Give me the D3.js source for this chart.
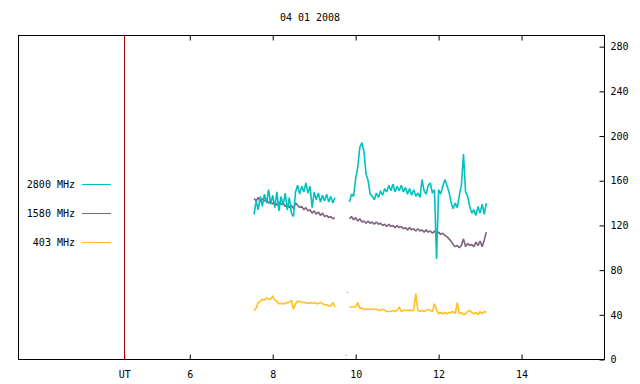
<!DOCTYPE html>
<html>
<head>
<meta charset="utf-8">
<script src="https://cdn.jsdelivr.net/npm/d3@7"></script>
<style>
	body { margin: 0; background: #fff; }
	text { font-family: "DejaVu Sans Mono", monospace; font-size: 10px; fill: #000; }
</style>
</head>
<body>
<div id=chart></div>
<script>

// title and axis ticks
var title = '04 01 2008';
var hourTicks = [6, 8, 10, 12, 14];
var utHour = 4.42;
var fluxTicks = [0, 40, 80, 120, 160, 200, 240, 280];

// legend
var seriesNames = ['2800 MHz', '1580 MHz', '403 MHz'];
var seriesColors = ['#00c0c0', '#806080', '#ffc020'];

// samples every 0.05 h (3 min) in two observing blocks
var step = 0.05;
var start1 = 7.55;
var start2 = 9.85;

var f2800_a = [130,142,134,146,137,148,140,152,139,147,136,150,133,146,138,149,134,145,131,128,
	150,156,148,155,150,158,149,155,136,150,143,149,141,147,142,148,141,146,140,145];
var f1580_a = [144,142,145,141,144,142,143,140,142,139,141,138,141,139,140,137,139,136,138,135,
	140,138,136,137,134,136,133,134,131,133,130,132,129,131,128,129,127,128,126,127];
var f403_a  = [44,46,51,52,54,53,55,54,54,57,53,52,50,50,50,50,51,51,53,45,
	50,52,52,51,51,51,50,51,50,51,50,50,51,50,49,49,48,48,51,47];

var f2800_b = [141,148,146,162,172,190,194,186,166,160,148,146,143,149,145,151,147,153,150,156,
	151,157,150,155,151,156,150,154,148,153,147,152,146,149,145,161,151,148,156,158,
	149,152,90,152,148,155,161,156,150,141,135,140,136,147,156,184,150,146,137,131,
	134,129,137,131,139,130,140];
var f1580_b = [126,128,125,127,124,126,123,124,122,124,122,123,121,123,121,122,120,121,119,121,
	119,120,118,120,118,119,117,118,116,118,116,117,115,117,115,116,114,116,114,115,
	113,115,112,114,112,113,111,110,108,106,103,101,102,100,102,108,101,104,102,103,
	101,105,102,106,101,107,114];
var f403_b  = [47,47,47,47,51,46,46,45,45,45,45,45,45,45,44,44,45,44,43,43,
	43,44,43,44,47,43,44,44,44,44,44,44,59,44,43,44,43,44,45,44,
	43,50,44,41,42,41,42,41,42,42,43,41,51,41,42,40,41,43,44,42,
	41,42,40,43,41,43,42];

// a few stray samples in the gap
var strayHour = [9.80, 9.77, 9.77];
var strayVal = [60, 4, 1];

var width = 640, height = 384;
var svg = d3.select("#chart").append("svg")
	.attr("width", width)
	.attr("height", height);

var x = d3.scaleLinear().domain([1.87, 16]).range([18.5, 604.5]);
var y = d3.scaleLinear().domain([0, 290]).range([359.5, 35.5]);

function toPoints(startHour, vals) {
	return vals.map(function(v, i) { return { t: startHour + i * step, v: v }; });
}

var series = [
	[toPoints(start1, f2800_a), toPoints(start2, f2800_b)],
	[toPoints(start1, f1580_a), toPoints(start2, f1580_b)],
	[toPoints(start1, f403_a), toPoints(start2, f403_b)]
];

// title
svg.append("text")
	.attr("x", 310).attr("y", 21)
	.attr("text-anchor", "middle")
	.text(title);

// axes
var bottomAxis = d3.axisBottom(x)
	.tickValues([utHour].concat(hourTicks))
	.tickFormat(function(d) { return d == utHour ? 'UT' : d; })
	.tickSizeInner(-5).tickSizeOuter(0).tickPadding(11);
svg.append("g")
	.attr("transform", "translate(0," + y(0) + ")")
	.call(bottomAxis)
	.call(function(g) { g.select(".domain").remove(); g.selectAll("text").style("font-size", "10px").style("font-family", "DejaVu Sans Mono"); });

var topAxis = d3.axisTop(x).tickValues(hourTicks).tickFormat("").tickSizeInner(-5).tickSizeOuter(0);
svg.append("g")
	.attr("transform", "translate(0," + y(290) + ")")
	.call(topAxis)
	.call(function(g) { g.select(".domain").remove(); });

var rightAxis = d3.axisRight(y)
	.tickValues(fluxTicks)
	.tickSizeInner(-5).tickSizeOuter(0).tickPadding(6);
svg.append("g")
	.attr("transform", "translate(" + x(16) + ",0)")
	.call(rightAxis)
	.call(function(g) {
		g.select(".domain").remove();
		g.selectAll("text").style("font-size", "10px").style("font-family", "DejaVu Sans Mono");
	});

// frame
svg.append("rect")
	.attr("x", x(1.87)).attr("y", y(290))
	.attr("width", x(16) - x(1.87)).attr("height", y(0) - y(290))
	.attr("fill", "none").attr("stroke", "#000").attr("stroke-width", 1);

// UT marker
var utX = Math.round(x(utHour) - 0.5) + 0.5;
svg.append("line")
	.attr("x1", utX).attr("x2", utX)
	.attr("y1", y(290)).attr("y2", y(0))
	.attr("stroke", "#a00000").attr("stroke-width", 1);

// data lines
var line = d3.line()
	.x(function(d) { return x(d.t); })
	.y(function(d) { return y(d.v); });

var drawOrder = [1, 0, 2];
drawOrder.forEach(function(k) {
	series[k].forEach(function(seg) {
		svg.append("path")
			.datum(seg)
			.attr("fill", "none")
			.attr("stroke", seriesColors[k])
			.attr("stroke-width", 1.6)
			.attr("stroke-linejoin", "bevel")
			.attr("d", line);
	});
	svg.append("rect")
		.attr("x", x(strayHour[k]) - 0.5).attr("y", y(strayVal[k]) - 0.5)
		.attr("width", 1).attr("height", 1)
		.attr("fill", seriesColors[k]);
});

// legend
var legendY = [184, 213, 242];
seriesNames.forEach(function(name, i) {
	svg.append("text")
		.attr("x", 75).attr("y", legendY[i])
		.attr("dy", "0.35em")
		.attr("text-anchor", "end")
		.text(name);
	svg.append("line")
		.attr("x1", 82).attr("x2", 111)
		.attr("y1", legendY[i] + 0.5).attr("y2", legendY[i] + 0.5)
		.attr("stroke", seriesColors[i]).attr("stroke-width", 1);
});

</script>
</body>
</html>
